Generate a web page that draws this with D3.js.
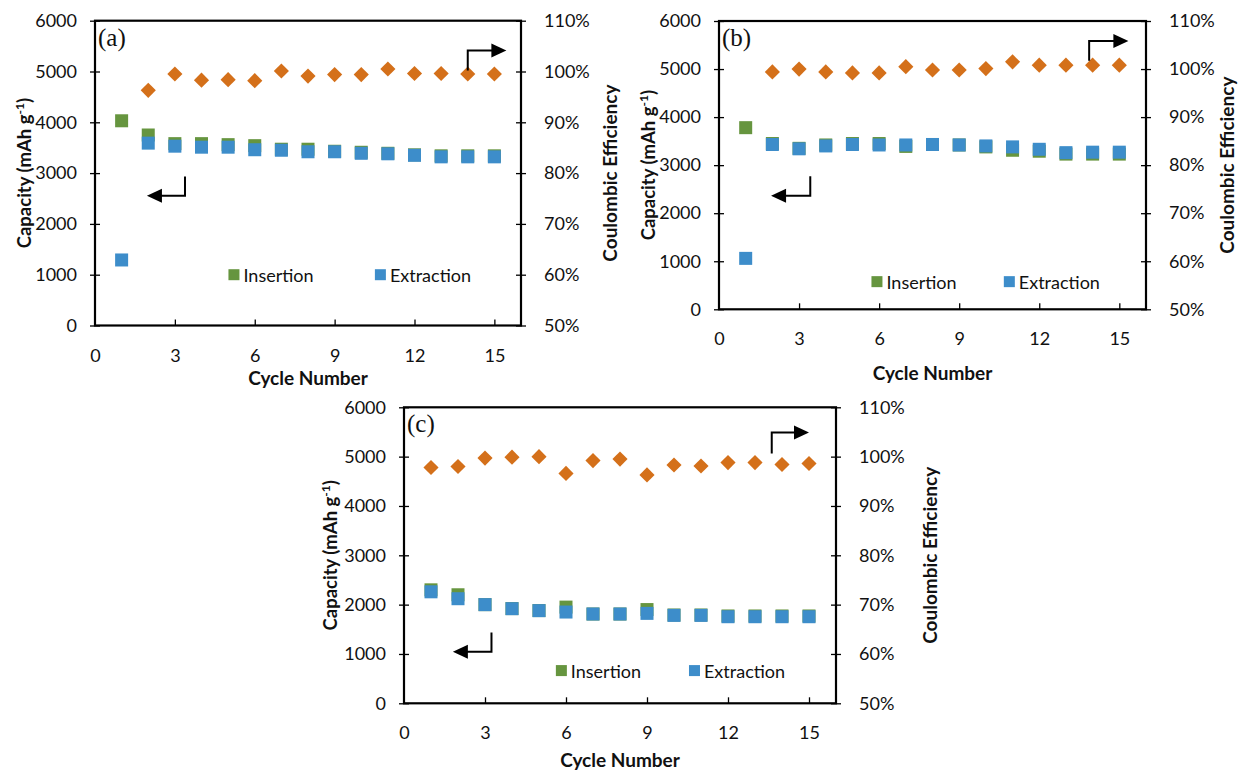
<!DOCTYPE html>
<html>
<head>
<meta charset="utf-8">
<title>Cycling</title>
<style>
  body { margin: 0; background: #fff; }
  svg text { font-family: Lato, "Open Sans", sans-serif; fill: #111; }
  .lbl { font-size: 18px; }
  .ttl { font-size: 18.5px; font-weight: bold; }
  .tag { font-family: "Liberation Serif", "DejaVu Serif", serif; font-size: 25px; }
</style>
</head>
<body>
<svg width="1240" height="770"></svg>
<script src="https://d3js.org/d3.v7.min.js"></script>
<script>
// values
var cycles = [1, 2, 3, 4, 5, 6, 7, 8, 9, 10, 11, 12, 13, 14, 15];
var capTicks = [0, 1000, 2000, 3000, 4000, 5000, 6000];
var ceTicks = [0.5, 0.6, 0.7, 0.8, 0.9, 1.0, 1.1];
var cycleTicks = [0, 3, 6, 9, 12, 15];

var insA = [4030, 3750, 3580, 3580, 3560, 3540, 3470, 3470, 3430, 3410, 3390, 3360, 3340, 3340, 3340];
var extA = [1290, 3590, 3530, 3510, 3510, 3460, 3450, 3420, 3420, 3390, 3380, 3350, 3320, 3320, 3320];
var ceA = [null, 0.963, 0.995, 0.983, 0.984, 0.982, 1.001, 0.991, 0.994, 0.994, 1.005, 0.996, 0.996, 0.995, 0.995];

var insB = [3780, 3450, 3350, 3420, 3450, 3450, 3390, 3430, 3420, 3380, 3310, 3290, 3230, 3230, 3230];
var extB = [1060, 3430, 3340, 3400, 3430, 3420, 3420, 3430, 3420, 3400, 3380, 3330, 3260, 3270, 3270];
var ceB = [null, 0.994, 1.000, 0.994, 0.992, 0.992, 1.005, 0.998, 0.998, 1.001, 1.015, 1.008, 1.008, 1.008, 1.008];

var insC = [2300, 2200, 2000, 1920, 1880, 1950, 1810, 1810, 1900, 1790, 1790, 1770, 1770, 1770, 1770];
var extC = [2260, 2120, 2000, 1918, 1878, 1850, 1810, 1810, 1823, 1782, 1782, 1755, 1755, 1755, 1755];
var ceC = [0.978, 0.980, 0.997, 0.999, 1.000, 0.966, 0.992, 0.995, 0.963, 0.983, 0.981, 0.988, 0.988, 0.984, 0.986];

var colIns = "#66953f", colExt = "#3d8dca", colCE = "#d4701a";

var svg = d3.select("svg");

function panel(o) {
    var x = d3.scaleLinear().domain([0, 16]).range([o.left, o.right]);
    var y = d3.scaleLinear().domain([0, 6000]).range([o.bottom, o.top]);
    var y2 = d3.scaleLinear().domain([0.5, 1.1]).range([o.bottom, o.top]);
    var g = svg.append("g");

    // frame
    g.append("rect").attr("x", o.left).attr("y", o.top)
        .attr("width", o.right - o.left).attr("height", o.bottom - o.top)
        .attr("fill", "none").attr("stroke", "#000").attr("stroke-width", 2.2);

    // left axis
    var ax = g.append("g").attr("transform", "translate(" + o.left + ",0)")
        .call(d3.axisLeft(y).tickValues(capTicks).tickSize(5).tickPadding(13).tickFormat(d3.format("d")));
    ax.select(".domain").remove();
    ax.selectAll(".tick line").attr("x2", 5).attr("x1", -5).attr("stroke-width", 1.3);
    ax.selectAll("text").attr("class", "lbl").attr("fill", "#111");

    var ar = g.append("g").attr("transform", "translate(" + o.right + ",0)")
        .call(d3.axisRight(y2).tickValues(ceTicks).tickSize(5).tickPadding(18).tickFormat(d3.format(".0%")));
    ar.select(".domain").remove();
    ar.selectAll(".tick line").attr("x1", -5).attr("x2", 5).attr("stroke-width", 1.3);
    ar.selectAll("text").attr("class", "lbl").attr("fill", "#111");

    var ab = g.append("g").attr("transform", "translate(0," + o.bottom + ")")
        .call(d3.axisBottom(x).tickValues(cycleTicks).tickSize(0).tickPadding(o.xpad));
    ab.select(".domain").remove();
    ab.selectAll("text").attr("class", "lbl").attr("fill", "#111");
    ab.selectAll(".tick").filter(function (d) { return d > 0; }).append("line")
        .attr("y1", 0).attr("y2", -6).attr("stroke", "#000").attr("stroke-width", 1.3);

    // titles
    g.append("text").attr("class", "ttl").attr("text-anchor", "middle").style("font-size", "19px")
        .attr("x", (o.left + o.right) / 2).attr("y", o.xtitle).text("Cycle Number");
    var lt = g.append("text").attr("class", "ttl").attr("text-anchor", "middle")
        .attr("transform", "translate(" + o.ltitle + "," + ((o.top + o.bottom) / 2) + ") rotate(-90)");
    lt.append("tspan").text("Capacity (mAh g");
    lt.append("tspan").attr("dy", -7).attr("font-size", 12).text("-1");
    lt.append("tspan").attr("dy", 7).text(")");
    g.append("text").attr("class", "ttl").attr("text-anchor", "middle").style("font-size", "19px")
        .attr("transform", "translate(" + o.rtitle + "," + ((o.top + o.bottom) / 2) + ") rotate(-90)")
        .text("Coulombic Efficiency");

    g.append("text").attr("class", "tag").attr("x", o.left + 3).attr("y", o.top + 25).text(o.tag);

    // markers
    var s = 13;
    g.selectAll(".ins").data(cycles).enter().append("rect")
        .attr("x", function (d) { return x(d) - s / 2; })
        .attr("y", function (d, i) { return y(o.ins[i]) - s / 2; })
        .attr("width", s).attr("height", s).attr("fill", colIns);
    g.selectAll(".ext").data(cycles).enter().append("rect")
        .attr("x", function (d) { return x(d) - s / 2; })
        .attr("y", function (d, i) { return y(o.ext[i]) - s / 2; })
        .attr("width", s).attr("height", s).attr("fill", colExt);
    var dia = d3.symbol().type(d3.symbolSquare).size(115);
    g.selectAll(".ce").data(cycles.filter(function (d, i) { return o.ce[i] != null; })).enter().append("path")
        .attr("d", dia)
        .attr("transform", function (d) { return "translate(" + x(d) + "," + y2(o.ce[d - 1]) + ") rotate(45)"; })
        .attr("fill", colCE);

    // legend
    [[o.leg[0], colIns, "Insertion"], [o.leg[1], colExt, "Extraction"]].forEach(function (l) {
        g.append("rect").attr("x", x(l[0]) - 5).attr("y", y(o.leg[2]) - 6)
            .attr("width", 11).attr("height", 11).attr("fill", l[1]);
        g.append("text").attr("class", "lbl").attr("x", x(l[0]) + 10).attr("y", y(o.leg[2]) + 7).text(l[2]);
    });

    // arrows
    var a = o.arrR, b = o.arrL;
    g.append("path").attr("fill", "none").attr("stroke", "#000").attr("stroke-width", 2)
        .attr("d", "M" + x(a[0]) + "," + y(a[1]) + "V" + y(a[2]) + "H" + (x(a[3]) - 12));
    g.append("path").attr("fill", "#000")
        .attr("d", "M" + x(a[3]) + "," + y(a[2]) + "l-15,-7v14z");
    g.append("path").attr("fill", "none").attr("stroke", "#000").attr("stroke-width", 2)
        .attr("d", "M" + x(b[0]) + "," + y(b[1]) + "V" + y(b[2]) + "H" + (x(b[3]) + 12));
    g.append("path").attr("fill", "#000")
        .attr("d", "M" + x(b[3]) + "," + y(b[2]) + "l15,-7v14z");
}

panel({ left: 95, right: 521, top: 20.7, bottom: 325.5, xpad: 24, xtitle: 385, ltitle: 31, rtitle: 617,
    tag: "(a)", ins: insA, ext: extA, ce: ceA, leg: [5.2, 10.7, 990],
    arrR: [14, 5020, 5415, 15.45], arrL: [3.38, 2931, 2555, 1.95] });
panel({ left: 719, right: 1146, top: 21, bottom: 309.3, xpad: 23, xtitle: 380, ltitle: 655, rtitle: 1234,
    tag: "(b)", ins: insB, ext: extB, ce: ceB, leg: [5.9, 10.86, 565],
    arrR: [13.87, 5174, 5586, 15.34], arrL: [3.42, 2768, 2364, 1.95] });
panel({ left: 404, right: 836, top: 407.3, bottom: 703.3, xpad: 23, xtitle: 767, ltitle: 337, rtitle: 937,
    tag: "(c)", ins: insC, ext: extC, ce: ceC, leg: [5.81, 10.74, 653],
    arrR: [13.62, 5061, 5490, 15.0], arrL: [3.24, 1435, 1047, 1.81] });
</script>
</body>
</html>
